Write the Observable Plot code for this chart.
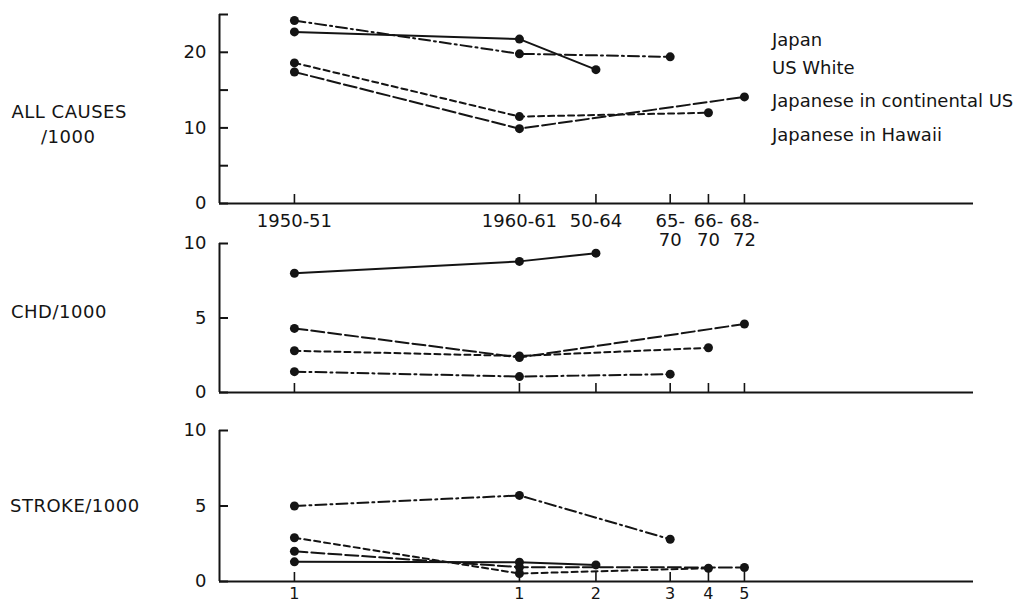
<!DOCTYPE html>
<html><head><meta charset="utf-8">
<script src="https://cdn.jsdelivr.net/npm/d3@7"></script>
<script src="https://cdn.jsdelivr.net/npm/@observablehq/plot@0.6"></script>
<style>
body{margin:0;background:#fff;}
#wrap{position:relative;width:1015px;height:605px;overflow:hidden;font-family:"DejaVu Sans",sans-serif;color:#141414;background:#fff;}
.panel{position:absolute;left:0;}
.lab{position:absolute;font-size:18px;letter-spacing:0.5px;text-align:center;line-height:26px;white-space:nowrap;}
.leg{position:absolute;left:772px;font-size:18px;line-height:22px;white-space:nowrap;}
</style></head><body>
<div id="wrap"></div>
<script>
// ---- data ----
const periods = ["1950-51","1960-61","50-64","65-70","66-70","68-72"];
const periodX = [1950.5, 1960.5, 1963.9, 1967.2, 1968.9, 1970.5];   // position on time axis
const topTickLabels = ["1950-51","1960-61","50-64","65-\n70","66-\n70","68-\n72"];
const strokeTickLabels = ["1","1","2","3","4","5"];
const series = ["Japan","US White","Japanese in continental US","Japanese in Hawaii"];

const allJapan       = [24.2, 19.8, null, 19.4, null, null];
const allUSWhite     = [22.7, 21.75, 17.7, null, null, null];
const allContinental = [17.4, 9.9, null, null, null, 14.1];
const allHawaii      = [18.6, 11.5, null, null, 12.0, null];

const chdJapan       = [1.4, 1.07, null, 1.23, null, null];
const chdUSWhite     = [8.0, 8.8, 9.35, null, null, null];
const chdContinental = [4.3, 2.35, null, null, null, 4.6];
const chdHawaii      = [2.8, 2.45, null, null, 3.0, null];

const strokeJapan       = [5.0, 5.7, null, 2.8, null, null];
const strokeUSWhite     = [1.3, 1.28, 1.1, null, null, null];
const strokeContinental = [2.0, 0.95, null, null, null, 0.93];
const strokeHawaii      = [2.9, 0.53, null, null, 0.88, null];

// ---- styling ----
const ink = "#141414";
const xDomain = [1947.17, 1980.68];
const dashes = ["11,4,2,4", null, "13,4", "6,4"];
const W = 1015, ML = 219, MR = 42, innerW = W - ML - MR, tickLen = 9;

function rows(arrs){
  const out = [];
  arrs.forEach((a, i) => a.forEach((v, j) => { if (v != null) out.push({series: series[i], s: i, x: periodX[j], v}); }));
  return out;
}

function panel({top, marginTop, innerH, marginBottom, yDomain, yTicks, yLabels, xLabels, xFont, xPad, arrs}){
  const data = rows(arrs);
  const marks = [
    Plot.ruleY([0], {stroke: ink, strokeWidth: 2}),
    Plot.ruleX([xDomain[0]], {stroke: ink, strokeWidth: 2}),
    // inward ticks
    Plot.tickY(yTicks, {y: d => d, stroke: ink, strokeWidth: 2, insetRight: innerW - tickLen}),
    Plot.tickX(periodX, {x: d => d, stroke: ink, strokeWidth: 1.6, insetTop: innerH - tickLen}),
    Plot.axisY({ticks: yLabels, tickSize: 0, tickPadding: 13, fontSize: 18, fill: ink, label: null}),
  ];
  if (xLabels) marks.push(Plot.axisX({ticks: periodX, tickSize: 0, tickPadding: xPad, fontSize: xFont, fill: ink, label: null,
      tickFormat: d => xLabels[periodX.indexOf(d)], lineHeight: 1.05}));
  series.forEach((s, i) => {
    marks.push(Plot.line(data.filter(d => d.s === i), {x: "x", y: "v", stroke: ink, strokeWidth: 2, strokeDasharray: dashes[i] || undefined}));
  });
  marks.push(Plot.dot(data, {x: "x", y: "v", r: 4.5, fill: ink, stroke: "none"}));
  const svg = Plot.plot({
    width: W, height: marginTop + innerH + marginBottom,
    marginLeft: ML, marginRight: MR, marginTop, marginBottom,
    x: {domain: xDomain, axis: null}, y: {domain: yDomain, axis: null},
    style: {background: "transparent", fontFamily: '"DejaVu Sans", sans-serif', fontSize: "18px", color: ink, overflow: "visible"},
    marks
  });
  const div = document.createElement("div");
  div.className = "panel";
  div.style.top = top + "px";
  div.appendChild(svg);
  document.getElementById("wrap").appendChild(div);
}

panel({top: 0, marginTop: 14, innerH: 189, marginBottom: 42, yDomain: [0, 25], yTicks: [0,5,10,15,20,25], yLabels: [0,10,20],
       xLabels: topTickLabels, xFont: 18, xPad: 10, arrs: [allJapan, allUSWhite, allContinental, allHawaii]});
panel({top: 230, marginTop: 13, innerH: 149, marginBottom: 8, yDomain: [0, 10], yTicks: [0,5,10], yLabels: [0,5,10],
       xLabels: null, arrs: [chdJapan, chdUSWhite, chdContinental, chdHawaii]});
panel({top: 417, marginTop: 13, innerH: 151, marginBottom: 24, yDomain: [0, 10], yTicks: [0,5,10], yLabels: [0,5,10],
       xLabels: strokeTickLabels, xFont: 16, xPad: 6, arrs: [strokeJapan, strokeUSWhite, strokeContinental, strokeHawaii]});

// left panel titles
const wrap = document.getElementById("wrap");
function lab(text, cx, cy){
  const d = document.createElement("div");
  d.className = "lab"; d.textContent = text;
  wrap.appendChild(d);
  d.style.left = (cx - d.offsetWidth / 2) + "px";
  d.style.top = (cy - 13) + "px";
}
lab("ALL CAUSES", 69, 112);
lab("/1000", 68, 137);
lab("CHD/1000", 59, 312);
lab("STROKE/1000", 75, 506);

// legend
const legendY = [40, 68, 101, 135];
series.forEach((s, i) => {
  const d = document.createElement("div");
  d.className = "leg"; d.textContent = s;
  d.style.top = (legendY[i] - 11) + "px";
  wrap.appendChild(d);
});
</script>
</body></html>
